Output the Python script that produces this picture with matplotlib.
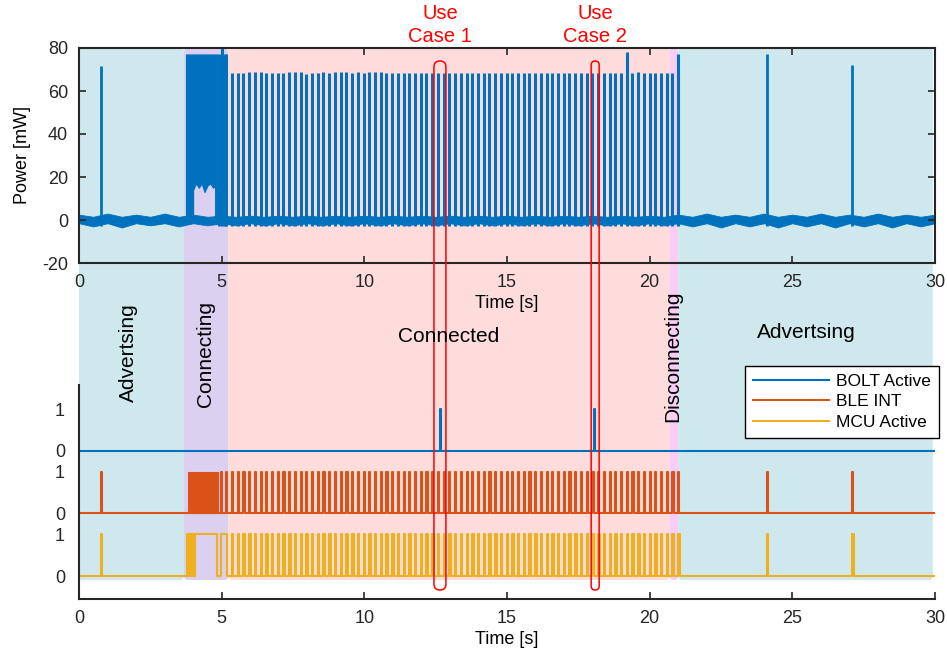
import numpy as np
import matplotlib
matplotlib.use("Agg")
import matplotlib.pyplot as plt
from matplotlib.patches import FancyBboxPatch
from matplotlib.lines import Line2D

plt.rcParams['font.family'] = ['Liberation Sans', 'DejaVu Sans']
plt.rcParams['axes.unicode_minus'] = False

# ---------------- data ----------------
# baseline noise envelope of the power trace, sampled every 0.5 s (mW)
noise_t = np.arange(0, 30.01, 0.5)
noise_hi = [2.5, 1.5, 3.0, 1.5, 2.5, 1.5, 3.0, 1.5, 2.5, 1.5,
            2.0, 1.5, 2.0, 1.5, 2.0, 1.5, 2.0, 1.5, 2.0, 1.5,
            2.0, 1.5, 2.0, 1.5, 2.0, 1.5, 2.0, 1.5, 2.0, 1.5,
            2.0, 1.5, 2.0, 1.5, 2.0, 1.5, 2.0, 1.5, 2.0, 1.5,
            2.0, 1.5, 2.5, 1.5, 3.0, 1.5, 2.5, 1.5, 3.0, 1.5,
            2.5, 1.5, 3.0, 1.5, 2.5, 1.5, 3.0, 1.5, 2.5, 1.5, 2.5]
noise_lo = [-1.5, -3.0, -1.5, -3.5, -1.5, -2.5, -1.5, -3.0, -1.5, -2.5,
            -1.5, -2.5, -1.5, -2.5, -1.5, -2.5, -1.5, -2.5, -1.5, -2.5,
            -1.5, -2.5, -1.5, -2.5, -1.5, -2.5, -1.5, -2.5, -1.5, -2.5,
            -1.5, -2.5, -1.5, -2.5, -1.5, -2.5, -1.5, -2.5, -1.5, -2.5,
            -1.5, -2.5, -1.5, -3.0, -1.5, -3.5, -1.5, -3.0, -1.5, -3.5,
            -1.5, -3.0, -1.5, -3.5, -1.5, -3.0, -1.5, -3.5, -1.5, -3.0, -1.5]

# advertising events
adv_t = [0.77, 24.11, 27.10]
adv_power = [71.5, 77.0, 72.0]

# connecting phase: dense burst (time s, lower edge mW, upper edge mW)
burst_t = [3.75, 4.00, 4.00, 4.10, 4.20, 4.30, 4.40, 4.50, 4.60, 4.70, 4.77, 4.77, 4.85]
burst_lo = [0, 0, 14, 17, 15, 17, 13, 16, 17, 15, 16, 0, 0]
burst_hi = [77, 77, 77, 77, 77, 77, 77, 77, 77, 77, 77, 77, 77]
extra_t = [4.92, 5.00, 5.10]
extra_power = [77.0, 80.0, 77.0]

# connected phase: periodic connection events
conn_start = 5.16
conn_interval = 0.2005
conn_power = [77.0, 68.5, 68.2, 68.3, 68.8, 68.8, 68.8, 68.2, 68.3, 68.2,
              68.6, 68.8, 68.8, 68.8, 67.9, 68.3, 68.2, 68.8, 68.3, 68.9,
              68.9, 68.9, 68.3, 68.7, 68.3, 68.8, 68.8, 68.7, 68.6, 68.4,
              68.5, 68.2, 68.3, 68.4, 68.5, 68.3, 68.4, 68.3, 68.5, 68.6,
              68.4, 68.4, 68.5, 68.3, 68.4, 68.6, 68.3, 68.4, 68.5, 68.4,
              68.3, 68.6, 68.4, 68.3, 68.5, 68.4, 68.3, 68.6, 68.4, 68.3,
              68.4, 68.4, 68.5, 68.3, 68.4, 68.6, 68.4, 68.3, 68.4, 68.4,
              78.0, 68.4, 68.8, 68.3, 68.2, 68.4, 68.4, 68.3, 68.4, 77.0]

# digital signals
bolt_t = [12.65, 18.05]
ble_dense = (3.81, 4.88)
ble_extra_t = [4.97]
mcu_dense = (3.80, 4.07)
mcu_high = [(3.80, 4.83), (4.99, 5.17)]

# phases
phase_start = [-0.08, 3.68, 5.23, 20.69, 21.00]
phase_end = [3.68, 5.23, 20.69, 21.00, 29.92]
phase_color = ['#cfe8ee', '#dcd0f1', '#fedcdc', '#f9cdf3', '#cfe8ee']

use_case_lbl = ['Use\nCase 1', 'Use\nCase 2']
use_case_span = [(12.44, 12.86), (17.95, 18.23)]

series_names = ['BOLT Active', 'BLE INT', 'MCU Active']
colors = ['#0072BD', '#D95319', '#EDB120']
offsets = [3.0, 1.5, 0.0]

# ---------------- figure ----------------
W, H = 947, 654
fig = plt.figure(figsize=(W / 100, H / 100), dpi=100)

def px_box(l, t, r, b):
    return [l / W, 1 - b / H, (r - l) / W, (b - t) / H]

ax_bg = fig.add_axes(px_box(79, 0, 935, H), zorder=-1)
ax_bg.set_xlim(0, 30)
ax_bg.set_ylim(0, H)
ax_bg.axis('off')
pps = 856 / 30.0
for s, e, c in zip(phase_start, phase_end, phase_color):
    r = 4 / pps
    p = FancyBboxPatch((s, H - 580), e - s, 580 - 48,
                       boxstyle=f"round,pad=0,rounding_size={r}",
                       mutation_aspect=4 / r, facecolor=c, edgecolor='none')
    ax_bg.add_patch(p)

# ---------------- top axes: power ----------------
ax1 = fig.add_axes(px_box(79, 48, 935, 263), zorder=1)
ax1.set_facecolor('none')
blue = colors[0]
ax1.fill_between(noise_t, noise_lo, noise_hi, color=blue, lw=0.6)
ax1.fill_between(burst_t, burst_lo, burst_hi, color=blue, lw=0.8)
conn_t = conn_start + conn_interval * np.arange(len(conn_power))
ax1.vlines(conn_t, -3.0, conn_power, color=blue, lw=2.2)
ax1.vlines(extra_t, -3.0, extra_power, color=blue, lw=2.2)
ax1.vlines(adv_t, -3.0, adv_power, color=blue, lw=2.0)
ax1.set_xlim(0, 30)
ax1.set_ylim(-20, 80)
ax1.set_xticks(range(0, 31, 5))
ax1.set_yticks(range(-20, 81, 20))
ax1.set_xlabel('Time [s]', fontsize=13, labelpad=3)
ax1.set_ylabel('Power [mW]', fontsize=13, labelpad=8)
ax1.tick_params(direction='in', length=5, width=1.2, labelsize=13,
                top=True, right=True, colors='#262626')
ax1.tick_params(axis='x', pad=8)
ax1.tick_params(axis='y', pad=8)
for sp in ax1.spines.values():
    sp.set_linewidth(1.5)
    sp.set_color('#262626')

# ---------------- bottom axes: digital signals ----------------
ax2 = fig.add_axes(px_box(79, 385, 935, 599), zorder=1)
ax2.set_facecolor('none')

def pulse_line(times, width, amp, off, high_spans=()):
    spans = sorted([(t, t + width) for t in times] + list(high_spans))
    xs, ys = [0.0], [off]
    for a, b in spans:
        xs += [a, a, b, b]
        ys += [off, off + amp, off + amp, off]
    xs.append(30.0)
    ys.append(off)
    return xs, ys

xs, ys = pulse_line(bolt_t, 0.04, 1.0, offsets[0])
ax2.plot(xs, ys, color=colors[0], lw=1.5)
ble_t = list(adv_t) + ble_extra_t + list(conn_t)
xs, ys = pulse_line(ble_t, 0.04, 1.0, offsets[1])
ax2.plot(xs, ys, color=colors[1], lw=1.5)
ax2.fill_between(ble_dense, offsets[1], offsets[1] + 1.0, color=colors[1], lw=0.8)
mcu_t = list(adv_t) + list(conn_t[1:])
xs, ys = pulse_line(mcu_t, 0.05, 1.0, offsets[2], mcu_high)
ax2.plot(xs, ys, color=colors[2], lw=1.5)
ax2.fill_between(mcu_dense, offsets[2], offsets[2] + 1.0, color=colors[2], lw=0.8)

ax2.set_xlim(0, 30)
ax2.set_ylim(-0.55, 4.575)
ax2.set_xticks(range(0, 31, 5))
ax2.set_yticks([0, 1, 1.5, 2.5, 3, 4])
ax2.set_yticklabels(['0', '1', '0', '1', '0', '1'])
ax2.set_xlabel('Time [s]', fontsize=13, labelpad=3)
ax2.tick_params(direction='in', length=5, width=1.2, labelsize=13,
                colors='#262626', pad=8)
ax2.tick_params(axis='y', length=0, pad=10)
ax2.spines['top'].set_visible(False)
ax2.spines['right'].set_visible(False)
for sp in ('left', 'bottom'):
    ax2.spines[sp].set_linewidth(1.5)
    ax2.spines[sp].set_color('#262626')

# ---------------- overlay: labels and use-case boxes ----------------
ax_ov = fig.add_axes(px_box(79, 0, 935, H), zorder=3)
ax_ov.set_xlim(0, 30)
ax_ov.set_ylim(0, H)
ax_ov.axis('off')

def sx(px):
    return (px - 79) / pps

txt_kw = dict(fontsize=15, color='black', ha='center', va='center')
ax_ov.text(sx(128), H - 353, 'Advertsing', rotation=90, **txt_kw)
ax_ov.text(sx(205), H - 354, 'Connecting', rotation=90, **txt_kw)
ax_ov.text(sx(449), H - 337, 'Connected', **txt_kw)
ax_ov.text(sx(673), H - 356, 'Disconnecting', rotation=90, **txt_kw)
ax_ov.text(sx(806), H - 333, 'Advertsing', **txt_kw)

for lbl, (a, b) in zip(use_case_lbl, use_case_span):
    r = (b - a) / 2
    p = FancyBboxPatch((a, H - 590), b - a, 590 - 61,
                       boxstyle=f"round,pad=0,rounding_size={r}",
                       mutation_aspect=pps, facecolor='none',
                       edgecolor='#ff0000', lw=1.1)
    ax_ov.add_patch(p)
    ax_ov.text((a + b) / 2, H - 25, lbl, fontsize=14.5, color='#ff0000',
               ha='center', va='center', linespacing=1.25)

handles = [Line2D([], [], color=c, lw=1.5) for c in colors]
leg = fig.legend(handles, series_names, loc='upper left',
                 bbox_to_anchor=(745 / W, 1 - 366 / H),
                 fontsize=12.5, frameon=True, fancybox=False, framealpha=1,
                 edgecolor='black', handlelength=4.4, handletextpad=0.4,
                 borderpad=0.45, labelspacing=0.3, borderaxespad=0)
leg.get_frame().set_linewidth(1.0)
leg.set_zorder(10)

fig.savefig('out.png', dpi=100)
